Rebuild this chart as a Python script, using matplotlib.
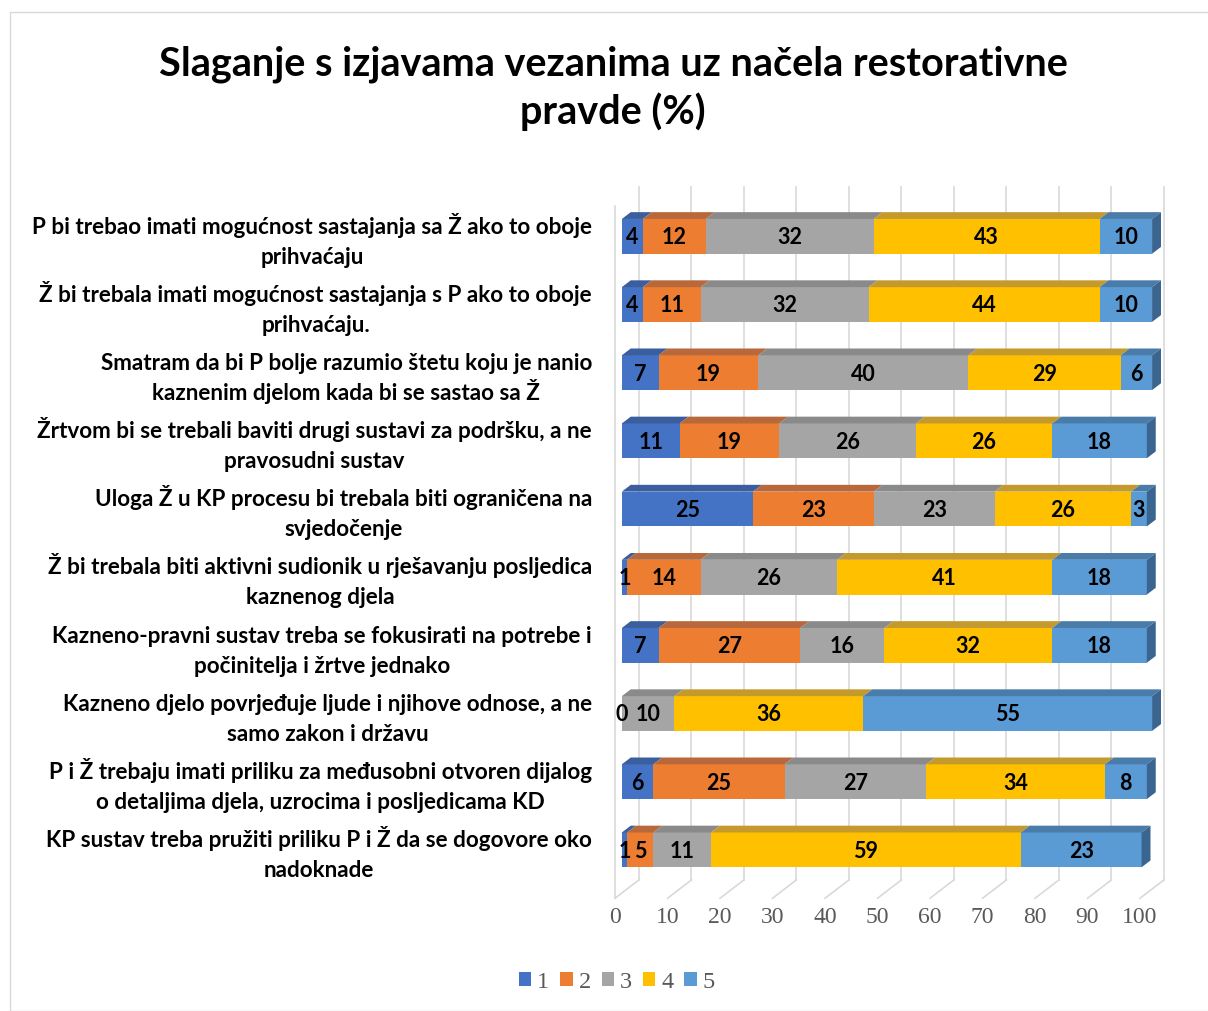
import numpy as np
import matplotlib.pyplot as plt
from matplotlib.patches import Polygon, Rectangle
from matplotlib.transforms import blended_transform_factory

categories = [
    "P bi trebao imati mogućnost sastajanja sa Ž ako to oboje\nprihvaćaju",
    "Ž bi trebala imati mogućnost sastajanja s P ako to oboje\nprihvaćaju.",
    "Smatram da bi P bolje razumio štetu koju je nanio\nkaznenim djelom kada bi se sastao sa Ž",
    "Žrtvom bi se trebali baviti drugi sustavi za podršku, a ne\npravosudni sustav",
    "Uloga Ž u KP procesu bi trebala biti ograničena na\nsvjedočenje",
    "Ž bi trebala biti aktivni sudionik u rješavanju posljedica\nkaznenog djela",
    "Kazneno-pravni sustav treba se fokusirati na potrebe i\npočinitelja i žrtve jednako",
    "Kazneno djelo povrjeđuje ljude i njihove odnose, a ne\nsamo zakon i državu",
    "P i Ž trebaju imati priliku za međusobni otvoren dijalog\no detaljima djela, uzrocima i posljedicama KD",
    "KP sustav treba pružiti priliku P i Ž da se dogovore oko\nnadoknade",
]
s1 = [4, 4, 7, 11, 25, 1, 7, 0, 6, 1]
s2 = [12, 11, 19, 19, 23, 14, 27, np.nan, 25, 5]
s3 = [32, 32, 40, 26, 23, 26, 16, 10, 27, 11]
s4 = [43, 44, 29, 26, 26, 41, 32, 36, 34, 59]
s5 = [10, 10, 6, 18, 3, 18, 18, 55, 8, 23]
series_names = ["1", "2", "3", "4", "5"]

colors = ["#4472C4", "#ED7D31", "#A5A5A5", "#FFC000", "#5B9BD5"]
top_colors = ["#3B5E9E", "#B8683A", "#8A8A8A", "#C49A2C", "#4A7CAA"]
side_color = "#3A6590"

W, H = 1208, 1011
fig = plt.figure(figsize=(W / 100, H / 100), dpi=100)
fig.patches.append(Rectangle((10 / W, 0), 1, 1 - 12 / H, transform=fig.transFigure,
                             fill=False, edgecolor="#D9D9D9", lw=1))

ax = fig.add_axes([604.5 / W, 110 / H, 567 / W, 726 / H])
ax.set_xlim(-2, 106)
ax.set_ylim(9.75, -0.9)
for sp in ax.spines.values():
    sp.set_visible(False)

# 3D-ish walls: back gridlines, floor diagonals, front left edge
back = 4.57
grid_c = "#D9D9D9"
for k in range(11):
    x = k * 10
    ax.plot([x + back, x + back], [9.44, -0.72], color=grid_c, lw=1.2, zorder=0)
    ax.plot([x, x + back], [9.71, 9.44], color=grid_c, lw=1.2, zorder=0)
ax.plot([0, 0], [9.71, -0.44], color=grid_c, lw=1.2, zorder=0)

off = 1.3
h = 0.51
dx, dy = 1.7, 0.1
data = np.array([s1, s2, s3, s4, s5], dtype=float)
y = np.arange(len(categories))
left = np.full(len(categories), off)
handles = []
for j in range(5):
    vals = np.nan_to_num(data[j])
    bars = ax.barh(y, vals, left=left, height=h, color=colors[j], zorder=2,
                   label=series_names[j])
    handles.append(bars)
    for i in range(len(y)):
        x0, x1 = left[i], left[i] + vals[i]
        yt = y[i] - h / 2
        if vals[i] > 0:
            ax.add_patch(Polygon([[x0, yt], [x1, yt], [x1 + dx, yt - dy], [x0 + dx, yt - dy]],
                                 closed=True, facecolor=top_colors[j], edgecolor="none", zorder=2))
        if not np.isnan(data[j][i]):
            ax.text((x0 + x1) / 2, y[i] + 0.02, f"{int(data[j][i])}", ha="center", va="center",
                    fontsize=15.5, fontweight="bold", family="Lato", color="black", zorder=4)
    left = left + vals
for i in range(len(y)):
    x1 = left[i]
    yt, yb = y[i] - h / 2, y[i] + h / 2
    ax.add_patch(Polygon([[x1, yt], [x1 + dx, yt - dy], [x1 + dx, yb - dy], [x1, yb]],
                         closed=True, facecolor=side_color, edgecolor="none", zorder=2))

ax.set_xticks(range(0, 101, 10))
ax.set_xticklabels([str(v) for v in range(0, 101, 10)], family="Liberation Serif",
                   fontsize=17, color="#595959")
ax.tick_params(axis="x", length=0, pad=4)
ax.set_yticks([])

# category labels: right-aligned block, lines centred under each other
lab_tr = blended_transform_factory(fig.transFigure, ax.transData)
renderer = fig.canvas.get_renderer()
for i, cat in enumerate(categories):
    first, second = cat.split("\n")
    t1 = fig.text(592 / W, y[i] - 0.04, first, transform=lab_tr, ha="right",
                  va="baseline", fontsize=16.2, fontweight="bold", family="Lato")
    bb = t1.get_window_extent(renderer)
    cx = (bb.x0 + bb.x1) / 2 / fig.bbox.width
    fig.text(cx, y[i] + 0.40, second, transform=lab_tr, ha="center",
             va="baseline", fontsize=16.2, fontweight="bold", family="Lato")

fig.text(613 / W, 1 - 88 / H, "Slaganje s izjavama vezanima uz načela restorativne\npravde (%)",
         ha="center", va="center", fontsize=28.5, fontweight="bold", family="Lato",
         linespacing=1.3)

leg = fig.legend(handles, series_names, loc="center", bbox_to_anchor=(617 / W, 1 - 982 / H),
                 ncol=5, frameon=False, handlelength=0.5, handleheight=0.5,
                 handletextpad=0.25, columnspacing=0.45,
                 prop={"family": "Liberation Serif", "size": 17.5})
for t in leg.get_texts():
    t.set_color("#595959")

fig.savefig("out.png", dpi=100)
